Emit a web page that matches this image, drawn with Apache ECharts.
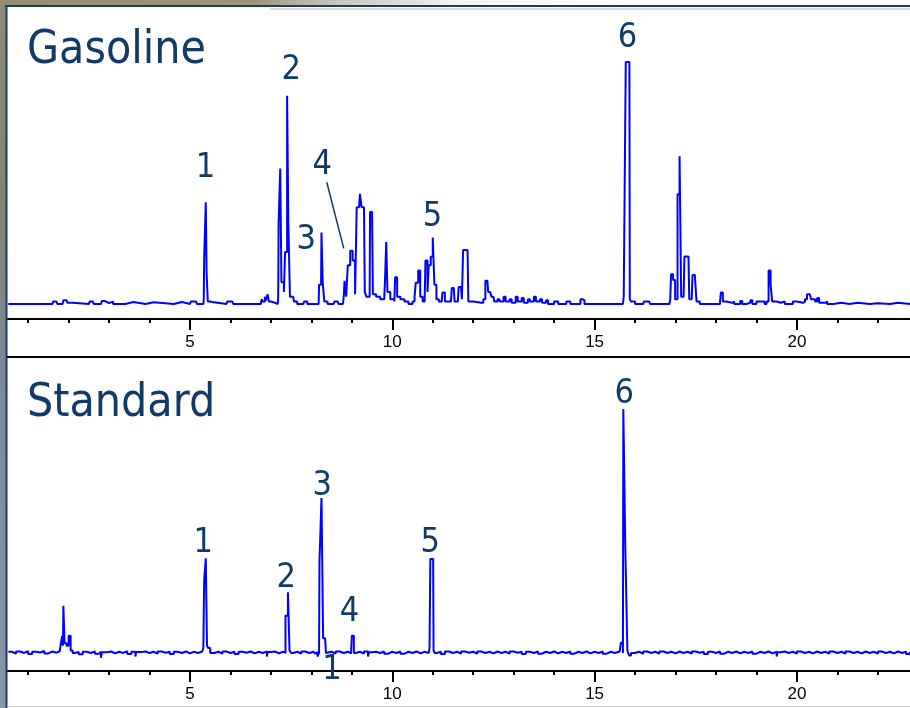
<!DOCTYPE html>
<html>
<head>
<meta charset="utf-8">
<script src="https://cdn.jsdelivr.net/npm/echarts/dist/echarts.min.js"></script>
<style>html,body{margin:0;padding:0;background:#fff;}#c{width:910px;height:708px;}</style>
</head>
<body>
<div id="c"></div>
<script>
// ---- data (retention time in minutes, detector signal in % of peak 6) ----
const panelTitles = ['Gasoline', 'Standard'];
const tickLabelsMin = [5, 10, 15, 20];

const gasolinePoints = [
  [0.51,0],[1.6,0],[1.62,1],[1.7,1],[1.72,0],[1.85,0],[1.87,1.5],[1.95,1.5],[1.97,0.5],[2.1,0.5],[2.12,0],
  [2.5,0],[2.52,1],[2.6,1],[2.62,0],[2.8,0],[2.82,1.2],[2.9,0.4],[3.0,1],[3.1,0],
  [3.4,0],[3.42,0.8],[3.6,0.8],[3.62,0],[3.9,0],[3.92,0.7],[4.1,0.7],[4.12,0],
  [4.6,0],[4.62,0.8],[4.8,0.8],[4.82,0],[5.0,0],[5.02,1],[5.15,1],[5.17,0],
  [5.33,0],[5.34,2],[5.35,19],[5.38,19],[5.39,42],[5.40,42],[5.41,13],[5.43,13],[5.44,1],[5.5,0.8],[5.55,0],
  [5.9,0],[5.92,1],[6.05,1],[6.07,0],
  [6.75,0],[6.77,2],[6.8,1],[6.85,3],[6.88,1.5],[6.92,4],[6.95,1],[7.0,0.5],[7.1,0],
  [7.17,0],[7.18,3],[7.19,33],[7.22,33],[7.23,56],[7.25,56],[7.26,9],[7.3,9],[7.32,5],[7.35,21.5],[7.38,21.5],
  [7.4,86],[7.42,86],[7.43,34],[7.46,34],[7.47,3],[7.55,3],[7.57,1],[7.65,0],
  [7.8,0],[7.82,1],[7.9,0],
  [8.18,0],[8.19,8],[8.24,8],[8.25,29.5],[8.27,29.5],[8.28,9],[8.31,9],[8.32,1],[8.4,0],
  [8.55,0],[8.57,1],[8.65,1],[8.67,0],
  [8.78,0],[8.8,3],[8.82,9.6],[8.85,9.6],[8.86,3],[8.9,16],[8.93,16],[8.96,22],[9.0,22],[9.02,18],[9.06,18],[9.08,4],
  [9.1,4],[9.12,40],[9.18,40],[9.2,45.5],[9.22,45.5],[9.24,40],[9.3,40],[9.32,5],[9.36,3],
  [9.44,3],[9.45,38],[9.5,38],[9.52,4],[9.6,3],[9.7,2],
  [9.8,2],[9.82,10],[9.85,25.6],[9.87,25.6],[9.88,5],[9.95,2],
  [10.05,1],[10.07,11],[10.1,11],[10.12,3],[10.2,2],[10.3,1],[10.4,0],
  [10.5,1],[10.55,3],[10.58,8.8],[10.62,8.8],[10.64,13.8],[10.67,13.8],[10.69,3],[10.75,1],
  [10.8,2],[10.82,18],[10.85,18],[10.87,5],[10.9,16],[10.93,16],[10.95,19.5],[10.98,19.5],[11.0,27.5],[11.02,27.5],[11.04,8],[11.07,8],[11.09,2],
  [11.15,1],[11.22,1],[11.24,4.7],[11.28,4.7],[11.3,1],[11.45,1],[11.47,6.6],[11.52,6.6],[11.54,1],[11.62,1],[11.64,7],[11.7,7],[11.72,2],
  [11.75,22.3],[11.86,22.3],[11.88,1],[12.0,0.5],
  [12.2,0.5],[12.25,2],[12.3,9.6],[12.35,9.6],[12.37,5],[12.42,5],[12.45,3],[12.5,3],[12.52,1],[12.6,2],[12.65,1],[12.75,3],[12.8,1],
  [12.9,2],[12.95,0.5],[13.05,3],[13.1,1],[13.2,2.5],[13.25,0.5],[13.35,2],[13.4,1],[13.5,3],[13.55,1],[13.65,2],[13.7,0.5],
  [13.8,1.5],[13.85,0],[14.0,1],[14.1,0],[14.3,1],[14.4,0],[14.6,0],[14.65,2],[14.7,1.5],[14.75,0],[14.9,0],[15.2,0],
  [15.7,0],[15.72,3],[15.76,3],[15.77,100],[15.86,100],[15.87,2],[15.9,1],[16.0,0],
  [16.2,0],[16.22,1],[16.35,1],[16.37,0],[16.6,0],
  [16.85,0],[16.87,2],[16.89,12.3],[16.92,12.3],[16.94,9.9],[16.97,9.9],[16.99,2],[17.03,2],[17.05,45.3],[17.08,45.3],
  [17.1,61],[17.12,61],[17.14,3],[17.2,3],[17.22,19.6],[17.32,19.6],[17.34,2],[17.4,2],[17.42,12],[17.46,12],[17.48,11],[17.5,11],[17.52,1],[17.6,0],
  [18.05,0],[18.1,1],[18.12,4.7],[18.15,4.7],[18.17,1],[18.25,0.5],[18.4,1],[18.45,0],[18.6,1.2],[18.65,0],[18.75,0.5],[18.85,1.5],[18.9,0],
  [19.0,1],[19.1,1],[19.2,0],[19.25,1],[19.3,13.8],[19.33,13.8],[19.35,8],[19.37,8],[19.39,1],[19.5,0.5],[19.6,1],[19.7,0],
  [19.9,1],[20.0,0.5],[20.15,1],[20.2,2],[20.25,4],[20.32,4],[20.35,2],[20.45,1],[20.5,2.5],[20.55,0.5],[20.7,1],[20.75,0],
  [20.9,0.5],[21.1,0],[21.3,0.5],[21.5,0],[21.8,0.3],[22.0,0],[22.3,0.5],[22.5,0],[22.79,0.5]
];

const standardPoints = [
  [0.51,0.5],[0.6,-0.3],[0.7,0.6],[0.8,0],[0.9,0.7],[1.0,-0.4],[1.1,0.5],[1.2,0.2],[1.3,0.8],[1.4,-0.2],[1.5,0.6],[1.6,0.1],[1.7,0.7],
  [1.78,0],[1.8,3],[1.84,7],[1.86,3],[1.87,19.3],[1.89,19.3],[1.9,4],[1.95,3],[2.0,7],[2.03,7],[2.05,1],[2.1,0],
  [2.15,0.4],[2.25,-0.5],[2.35,0.5],[2.45,0],[2.55,0.6],[2.65,-0.3],[2.75,0.5],[2.8,-2],[2.82,0.3],[2.95,0.6],[3.05,-0.2],
  [3.15,0.5],[3.25,0],[3.35,0.7],[3.45,-0.4],[3.55,0.5],[3.65,-1.5],[3.67,0.4],[3.8,0.6],[3.9,0],[4.0,0.5],[4.1,-0.3],
  [4.2,0.6],[4.3,0.1],[4.4,0.5],[4.5,-0.4],[4.6,0.5],[4.7,0],[4.8,0.6],[4.9,-0.2],[5.0,0.5],[5.1,0],[5.2,0.6],
  [5.3,0],[5.33,2],[5.35,30],[5.38,30],[5.39,38.8],[5.41,38.8],[5.42,3],[5.45,2],[5.5,0],
  [5.6,0.5],[5.7,-0.3],[5.8,0.6],[5.9,0],[6.0,0.5],[6.1,-0.4],[6.2,0.5],[6.3,0.1],[6.4,0.6],[6.5,-0.2],[6.6,0.5],[6.7,0],
  [6.8,0.6],[6.9,-1.5],[6.92,0.4],[7.0,0.6],[7.1,-0.2],[7.2,0.5],[7.3,0],
  [7.33,0],[7.36,15.2],[7.4,15.2],[7.42,24.9],[7.45,24.9],[7.46,1],[7.5,0],
  [7.55,0.5],[7.65,-0.3],[7.75,0.6],[7.85,0],[7.95,0.5],[8.05,-0.3],[8.1,0.4],
  [8.15,-1.5],[8.19,0],[8.2,37.4],[8.24,37.4],[8.25,63.5],[8.28,63.5],[8.29,6],[8.34,6],[8.36,0],
  [8.4,0.5],[8.5,-0.3],[8.6,0.6],[8.7,0],[8.8,0.5],[8.9,-0.2],
  [8.98,0],[9.0,7],[9.03,7],[9.05,0],
  [9.1,0.5],[9.2,-0.3],[9.3,0.6],[9.4,-1.5],[9.42,0.3],[9.5,0.5],[9.6,0],[9.7,0.6],[9.8,-0.3],[9.9,0.5],[10.0,0],
  [10.1,0.6],[10.2,-0.3],[10.3,0.5],[10.4,0],[10.5,0.6],[10.6,-0.2],[10.7,0.5],[10.8,0],
  [10.9,0],[10.92,2],[10.94,38.5],[11.01,38.5],[11.02,1],[11.05,0],
  [11.1,0.5],[11.2,-0.4],[11.3,0.6],[11.4,0],[11.5,0.5],[11.6,-0.3],[11.7,0.6],[11.8,0.1],[11.9,0.5],[12.0,-0.3],
  [12.1,0.6],[12.2,0],[12.3,0.5],[12.4,-0.2],[12.5,0.6],[12.6,0],[12.7,0.5],[12.8,-0.3],[12.9,0.6],[13.0,0.1],
  [13.1,0.5],[13.2,-0.4],[13.3,0.5],[13.4,0],[13.5,0.6],[13.6,-0.3],[13.7,0.5],[13.8,0],[13.9,0.6],[14.0,-0.2],
  [14.1,0.5],[14.2,0],[14.3,0.6],[14.4,-0.3],[14.5,0.5],[14.6,0],[14.7,0.6],[14.8,-0.2],[14.9,0.5],[15.0,0],
  [15.1,0.6],[15.2,-0.3],[15.3,0.5],[15.4,0],[15.5,0.6],
  [15.62,0],[15.65,4.2],[15.68,4.2],[15.7,0],[15.71,100],[15.75,100],[15.76,42.2],[15.8,42.2],[15.81,1],[15.85,-1],[15.9,0],
  [16.0,0.5],[16.1,-0.3],[16.2,0.6],[16.3,0],[16.4,0.5],[16.5,-0.3],[16.6,0.6],[16.7,0],[16.8,0.5],[16.9,-0.2],
  [17.0,0.6],[17.1,0],[17.2,0.5],[17.3,-0.3],[17.4,0.6],[17.5,0.1],[17.6,0.5],[17.7,-0.4],[17.8,0.5],[17.9,0],
  [18.0,0.6],[18.1,-0.3],[18.2,0.5],[18.3,0],[18.4,0.6],[18.5,-0.2],[18.6,0.5],[18.7,0],[18.8,0.6],[18.9,-0.3],
  [19.0,0.5],[19.1,0],[19.2,0.6],[19.3,-0.2],[19.4,0.5],[19.5,-1.5],[19.52,0.3],[19.6,0.6],[19.7,0],[19.8,0.5],[19.9,-0.3],
  [20.0,0.6],[20.1,0],[20.2,0.5],[20.3,-0.2],[20.4,0.6],[20.5,0],[20.6,0.5],[20.7,-0.3],[20.8,0.6],[20.9,0],
  [21.0,0.5],[21.1,-0.3],[21.2,0.6],[21.3,0],[21.4,0.5],[21.5,-0.2],[21.6,0.6],[21.7,0],[21.8,0.5],[21.9,-0.3],
  [22.0,0.6],[22.1,0],[22.2,0.5],[22.3,-0.2],[22.4,0.6],[22.5,0],[22.6,0.5],[22.7,-0.4],[22.79,0.5]
];

// peak number annotations: [text, time, signal]
const gasolinePeakLabels = [['1',5.38,56.2],['2',7.50,96.7],['3',7.87,26.4],['4',8.27,57.4],['5',10.99,36],['6',15.81,110]];
const gasolinePointer = [[8.38,50.3],[8.80,23.0]];
const standardPeakLabels = [['1',5.33,45.1],['2',7.38,30.7],['3',8.27,68.4],['4',8.94,16.8],['5',10.94,45.1],['6',15.73,106.1],['1',8.51,-7.0]];

// ---- styling / layout ----
const NAVY = '#123a66';
const TRACE = '#0000ff';
const titleFont = "'DejaVu Sans Condensed','DejaVu Sans',sans-serif";

function xAxisFor(gridIndex) {
  return {
    type: 'value', gridIndex, min: 0, max: 25, interval: 5,
    axisLine: {show: true, onZero: false, lineStyle: {color: '#000', width: 2}},
    axisTick: {show: true, length: 11, lineStyle: {color: '#000', width: 2}},
    minorTick: {show: true, splitNumber: 5, length: 4, lineStyle: {color: '#000', width: 2}},
    axisLabel: {
      color: '#000', fontSize: 17, margin: 15, fontFamily: "'Liberation Sans',Arial,sans-serif",
      showMinLabel: true, showMaxLabel: true,
      formatter: v => (tickLabelsMin.indexOf(v) >= 0 ? String(v) : '')
    },
    splitLine: {show: false}
  };
}

function labelMarks(list) {
  return {
    symbol: 'circle', symbolSize: 0, silent: true, animation: false,
    label: {show: true, position: 'inside', color: NAVY, fontSize: 34, fontFamily: titleFont, formatter: p => p.name},
    data: list.map(l => ({name: l[0], coord: [l[1], l[2]]}))
  };
}

const option = {
  animation: false,
  backgroundColor: '#ffffff',
  title: [
    {text: panelTitles[0], left: 27, top: 28, padding: 0, textStyle: {color: NAVY, fontSize: 46, fontWeight: 'normal', fontFamily: titleFont}},
    {text: panelTitles[1], left: 27, top: 381, padding: 0, textStyle: {color: NAVY, fontSize: 46, fontWeight: 'normal', fontFamily: titleFont}}
  ],
  grid: [
    {left: -12.3, width: 1011.5, top: 8, height: 311, containLabel: false, outerBoundsMode: 'none'},
    {left: -12.3, width: 1011.5, top: 357, height: 314, containLabel: false, outerBoundsMode: 'none'}
  ],
  xAxis: [xAxisFor(0), xAxisFor(1)],
  yAxis: [
    {type: 'value', gridIndex: 0, min: -6.2, max: 122.3, show: false},
    {type: 'value', gridIndex: 1, min: -7.4, max: 121.3, show: false}
  ],
  series: [
    {
      type: 'line', xAxisIndex: 0, yAxisIndex: 0, data: gasolinePoints, step: 'end',
      symbol: 'none', lineStyle: {color: TRACE, width: 2}, silent: true,
      markPoint: labelMarks(gasolinePeakLabels),
      markLine: {
        symbol: 'none', silent: true, animation: false, label: {show: false},
        lineStyle: {color: NAVY, width: 1.5, type: 'solid'},
        data: [[{coord: gasolinePointer[0]}, {coord: gasolinePointer[1]}]]
      }
    },
    {
      type: 'line', xAxisIndex: 1, yAxisIndex: 1, data: standardPoints, step: 'end',
      symbol: 'none', lineStyle: {color: TRACE, width: 2}, silent: true,
      markPoint: labelMarks(standardPeakLabels)
    }
  ],
  graphic: [
    {type: 'rect', z: 100, silent: true, shape: {x: 0, y: 0, width: 6, height: 708},
      style: {fill: new echarts.graphic.LinearGradient(0, 0, 0, 1, [
        {offset: 0, color: '#8e8a70'}, {offset: 0.3, color: '#7f8470'}, {offset: 0.55, color: '#7c889c'}, {offset: 1, color: '#8a94a8'}])}},
    {type: 'rect', z: 100, silent: true, shape: {x: 0, y: 0, width: 910, height: 5},
      style: {fill: new echarts.graphic.LinearGradient(0, 0, 1, 0, [
        {offset: 0, color: '#958f72'}, {offset: 0.28, color: '#9c9678'}, {offset: 0.36, color: '#c4c2b8'}, {offset: 0.5, color: '#f2f2f2'}, {offset: 0.7, color: '#ffffff'}, {offset: 1, color: '#ffffff'}])}},
    {type: 'line', z: 101, silent: true, shape: {x1: 5, y1: 6, x2: 910, y2: 6}, style: {stroke: '#1d3a6a', lineWidth: 2}},
    {type: 'line', z: 101, silent: true, shape: {x1: 270, y1: 9, x2: 910, y2: 9}, style: {stroke: '#dcdcdc', lineWidth: 2}},
    {type: 'line', z: 101, silent: true, shape: {x1: 6.5, y1: 5, x2: 6.5, y2: 708}, style: {stroke: '#1d3a6a', lineWidth: 2}},
    {type: 'line', z: 101, silent: true, shape: {x1: 7, y1: 357, x2: 910, y2: 357}, style: {stroke: '#000', lineWidth: 2}},
    {type: 'line', z: 101, silent: true, shape: {x1: 7, y1: 706.5, x2: 910, y2: 706.5}, style: {stroke: '#d4d4d4', lineWidth: 1}}
  ]
};

const chart = echarts.init(document.getElementById('c'));
chart.setOption(option);
</script>
</body>
</html>
